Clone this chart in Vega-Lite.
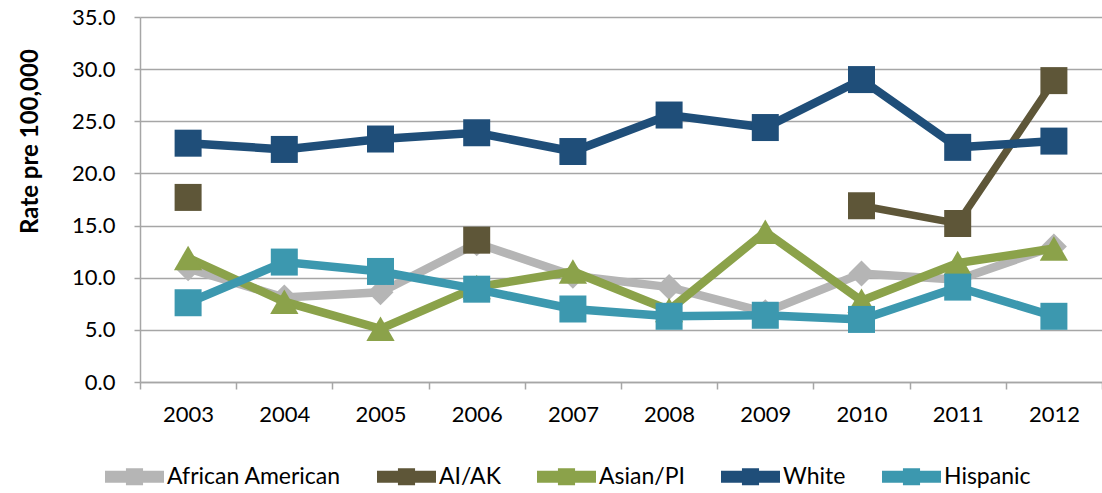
{
  "$schema": "https://vega.github.io/schema/vega-lite/v6.json",
  "width": 962,
  "height": 365,
  "autosize": {"type": "none"},
  "padding": {"left": 140, "top": 17, "right": 0, "bottom": 111},
  "background": "white",
  "config": {"view": {"stroke": null}, "font": "Lato"},
  "data": {"values": [
    {"year": "2003", "series": "African American", "rate": 10.9},
    {"year": "2004", "series": "African American", "rate": 8.1},
    {"year": "2005", "series": "African American", "rate": 8.6},
    {"year": "2006", "series": "African American", "rate": 13.3},
    {"year": "2007", "series": "African American", "rate": 10.2},
    {"year": "2008", "series": "African American", "rate": 9.1},
    {"year": "2009", "series": "African American", "rate": 6.7},
    {"year": "2010", "series": "African American", "rate": 10.4},
    {"year": "2011", "series": "African American", "rate": 9.8},
    {"year": "2012", "series": "African American", "rate": 13.0},
    {"year": "2003", "series": "AI/AK", "rate": 17.7},
    {"year": "2004", "series": "AI/AK", "rate": null},
    {"year": "2005", "series": "AI/AK", "rate": null},
    {"year": "2006", "series": "AI/AK", "rate": 13.6},
    {"year": "2007", "series": "AI/AK", "rate": null},
    {"year": "2008", "series": "AI/AK", "rate": null},
    {"year": "2009", "series": "AI/AK", "rate": null},
    {"year": "2010", "series": "AI/AK", "rate": 16.9},
    {"year": "2011", "series": "AI/AK", "rate": 15.2},
    {"year": "2012", "series": "AI/AK", "rate": 28.9},
    {"year": "2003", "series": "Asian/PI", "rate": 11.9},
    {"year": "2004", "series": "Asian/PI", "rate": 7.7},
    {"year": "2005", "series": "Asian/PI", "rate": 5.1},
    {"year": "2006", "series": "Asian/PI", "rate": 9.1},
    {"year": "2007", "series": "Asian/PI", "rate": 10.6},
    {"year": "2008", "series": "Asian/PI", "rate": 6.9},
    {"year": "2009", "series": "Asian/PI", "rate": 14.4},
    {"year": "2010", "series": "Asian/PI", "rate": 7.8},
    {"year": "2011", "series": "Asian/PI", "rate": 11.4},
    {"year": "2012", "series": "Asian/PI", "rate": 12.8},
    {"year": "2003", "series": "White", "rate": 22.9},
    {"year": "2004", "series": "White", "rate": 22.3},
    {"year": "2005", "series": "White", "rate": 23.3},
    {"year": "2006", "series": "White", "rate": 23.9},
    {"year": "2007", "series": "White", "rate": 22.1},
    {"year": "2008", "series": "White", "rate": 25.6},
    {"year": "2009", "series": "White", "rate": 24.4},
    {"year": "2010", "series": "White", "rate": 29.0},
    {"year": "2011", "series": "White", "rate": 22.5},
    {"year": "2012", "series": "White", "rate": 23.1},
    {"year": "2003", "series": "Hispanic", "rate": 7.6},
    {"year": "2004", "series": "Hispanic", "rate": 11.5},
    {"year": "2005", "series": "Hispanic", "rate": 10.6},
    {"year": "2006", "series": "Hispanic", "rate": 8.9},
    {"year": "2007", "series": "Hispanic", "rate": 7.0},
    {"year": "2008", "series": "Hispanic", "rate": 6.3},
    {"year": "2009", "series": "Hispanic", "rate": 6.4},
    {"year": "2010", "series": "Hispanic", "rate": 6.0},
    {"year": "2011", "series": "Hispanic", "rate": 9.1},
    {"year": "2012", "series": "Hispanic", "rate": 6.3}
  ]},
  "encoding": {
    "x": {
      "field": "year", "type": "ordinal",
      "scale": {"type": "band", "paddingInner": 0, "paddingOuter": 0},
      "axis": {
        "title": null, "labelAngle": 0, "labelFontSize": 22, "labelColor": "#000000",
        "labelPadding": 15, "tickBand": "extent", "tickSize": 7, "tickColor": "#A6A6A6",
        "tickWidth": 1.5, "domainColor": "#A6A6A6", "domainWidth": 1.5, "grid": false
      }
    },
    "y": {
      "field": "rate", "type": "quantitative",
      "scale": {"domain": [0, 35], "nice": false},
      "axis": {
        "title": "Rate pre 100,000", "titleFontSize": 24, "titleFontWeight": "bold",
        "titleColor": "#000000", "titleAngle": -90, "titleX": -110, "titleY": 124,
        "titleBaseline": "middle", "titleAlign": "center",
        "values": [0, 5, 10, 15, 20, 25, 30, 35], "format": ".1f",
        "labelFontSize": 22, "labelColor": "#000000", "labelPadding": 19,
        "tickSize": 6, "tickColor": "#A6A6A6", "tickWidth": 1.5,
        "domainColor": "#A6A6A6", "domainWidth": 1.5,
        "gridColor": "#A6A6A6", "gridWidth": 1.5
      }
    }
  },
  "layer": [
    {"transform": [{"filter": "datum.series === 'African American'"}],
     "mark": {"type": "line", "color": "#B5B5B5", "strokeWidth": 8.5, "invalid": "break-paths-show-domains"}},
    {"transform": [{"filter": "datum.series === 'African American'"}],
     "mark": {"type": "point", "shape": "diamond", "size": 676, "filled": true, "opacity": 1},
     "encoding": {"color": {"field": "series", "type": "nominal",
       "scale": {"domain": ["African American", "AI/AK", "Asian/PI", "White", "Hispanic"],
                 "range": ["#B5B5B5", "#5E5638", "#8BA24A", "#1F4E79", "#3C98AF"]},
       "legend": {"title": null, "orient": "none", "legendX": -35, "legendY": 430,
         "direction": "horizontal",
         "symbolType": "M-1,-0.2H-0.29V-0.29H0.29V-0.2H1V0.2H0.29V0.29H-0.29V0.2H-1Z",
         "symbolSize": 3481, "symbolStrokeWidth": 0, "symbolOpacity": 1,
         "labelFontSize": 23, "labelColor": "#000000", "labelOffset": 3,
         "columnPadding": 36, "labelLimit": 400}}}},
    {"transform": [{"filter": "datum.series === 'AI/AK'"}],
     "mark": {"type": "line", "color": "#5E5638", "strokeWidth": 7.5, "invalid": "break-paths-show-domains"}},
    {"transform": [{"filter": "datum.series === 'AI/AK' && datum.rate != null"}],
     "mark": {"type": "point", "shape": "square", "size": 729, "filled": true, "opacity": 1},
     "encoding": {"color": {"field": "series", "type": "nominal"}}},
    {"transform": [{"filter": "datum.series === 'Asian/PI'"}],
     "mark": {"type": "line", "color": "#8BA24A", "strokeWidth": 8.5, "invalid": "break-paths-show-domains"}},
    {"transform": [{"filter": "datum.series === 'Asian/PI'"}],
     "mark": {"type": "point", "shape": "triangle-up", "size": 800, "filled": true, "opacity": 1},
     "encoding": {"color": {"field": "series", "type": "nominal"}}},
    {"transform": [{"filter": "datum.series === 'White'"}],
     "mark": {"type": "line", "color": "#1F4E79", "strokeWidth": 8.5, "invalid": "break-paths-show-domains"}},
    {"transform": [{"filter": "datum.series === 'White'"}],
     "mark": {"type": "point", "shape": "square", "size": 729, "filled": true, "opacity": 1},
     "encoding": {"color": {"field": "series", "type": "nominal"}}},
    {"transform": [{"filter": "datum.series === 'Hispanic'"}],
     "mark": {"type": "line", "color": "#3C98AF", "strokeWidth": 8.5, "invalid": "break-paths-show-domains"}},
    {"transform": [{"filter": "datum.series === 'Hispanic'"}],
     "mark": {"type": "point", "shape": "square", "size": 729, "filled": true, "opacity": 1},
     "encoding": {"color": {"field": "series", "type": "nominal"}}}
  ]
}
